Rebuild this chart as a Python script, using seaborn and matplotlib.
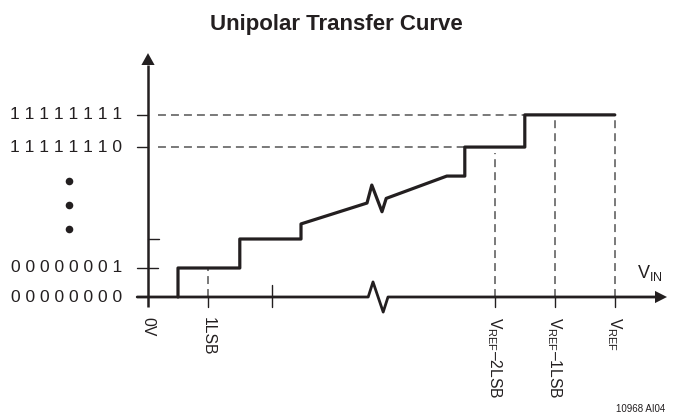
import numpy as np
import pandas as pd
import matplotlib
matplotlib.use("Agg")
import matplotlib.pyplot as plt
from matplotlib.patches import Polygon
import seaborn as sns

# ---- data (x in LSB units from 0V, y in output-code steps) ----
curve_x = [0.5, 0.5, 1.53, 1.53, 2.55, 2.55, 3.65, 3.73, 3.90, 3.97, 4.98, 5.28, 5.28, 6.28, 6.28, 7.78]
curve_y = [0.0, 1.0, 1.00, 2.00, 2.00, 2.52, 3.24, 3.86, 2.94, 3.40, 4.17, 4.17, 5.17, 5.17, 6.28, 6.28]

xaxis_x = [-0.18, 3.67, 3.75, 3.92, 4.00, 8.50]
xaxis_y = [0.0, 0.0, 0.52, -0.52, 0.0, 0.0]

code_levels = [0.0, 1.0, 5.17, 6.28]
code_labels = ["0 0 0 0 0 0 0 0", "0 0 0 0 0 0 0 1", "1 1 1 1 1 1 1 0", "1 1 1 1 1 1 1 1"]
mid_code_tick = 2.0
dot_levels = [4.0, 3.17, 2.34]

x_tick_pos = [0.0, 1.0, 5.78, 6.78, 7.78]
x_tick_labels = ["0V", "1LSB", r"V$_{\mathregular{REF}}$–2LSB", r"V$_{\mathregular{REF}}$–1LSB", r"V$_{\mathregular{REF}}$"]
mid_x_tick = 2.07

title = "Unipolar Transfer Curve"
footnote = "10968 AI04"

# ---- style ----
sns.set_theme(style="white")
FONT = ["Liberation Sans", "DejaVu Sans"]
plt.rcParams["font.family"] = FONT
plt.rcParams["mathtext.fontset"] = "custom"
plt.rcParams["mathtext.rm"] = "Liberation Sans"
plt.rcParams["mathtext.it"] = "Liberation Sans"
plt.rcParams["mathtext.bf"] = "Liberation Sans:bold"

INK = "#231f20"
DASH = "#555555"
dash_ls = (0, (5.2, 3.3))

fig = plt.figure(figsize=(6.73, 4.16), dpi=100)
ax = fig.add_axes([0, 0, 1, 1])
ax.set_xlim(-148 / 60, (673 - 148) / 60)
ax.set_ylim((297 - 416) / 29, 297 / 29)

# dashed guides
ax.plot([0.17, 6.28], [6.28, 6.28], color=DASH, lw=1.1, ls=dash_ls)
ax.plot([0.17, 5.28], [5.17, 5.17], color=DASH, lw=1.1, ls=dash_ls)
ax.plot([1.0, 1.0], [0, 1.0], color=DASH, lw=1.1, ls=dash_ls)
ax.plot([5.78, 5.78], [0, 4.97], color=DASH, lw=1.1, ls=dash_ls)
ax.plot([6.78, 6.78], [0, 6.28], color=DASH, lw=1.1, ls=dash_ls)
ax.plot([7.78, 7.78], [0, 6.28], color=DASH, lw=1.1, ls=dash_ls)

# axes lines
sns.lineplot(x=xaxis_x, y=xaxis_y, sort=False, estimator=None, ax=ax, color=INK, lw=2.0)
ax.plot([0, 0], [-0.34, 8.0], color=INK, lw=1.8, solid_capstyle="butt")
ax.add_patch(Polygon([[8.45, 0.21], [8.65, 0], [8.45, -0.21]], closed=True, color=INK, lw=0))
ax.add_patch(Polygon([[-0.11, 8.0], [0, 8.41], [0.11, 8.0]], closed=True, color=INK, lw=0))

# y ticks
for lv in code_levels[2:]:
    ax.plot([-0.18, 0.0], [lv, lv], color=INK, lw=1.0)
ax.plot([-0.18, 0.17], [1.0, 1.0], color=INK, lw=1.0)
ax.plot([0.0, 0.18], [mid_code_tick, mid_code_tick], color=INK, lw=1.0)

# x ticks
for xp in x_tick_pos[1:]:
    ax.plot([xp, xp], [0, -0.34], color=INK, lw=1.0)
ax.plot([mid_x_tick, mid_x_tick], [0.41, -0.34], color=INK, lw=1.0)

# transfer curve
sns.lineplot(x=curve_x, y=curve_y, sort=False, estimator=None, ax=ax, color=INK, lw=2.3)

# ellipsis dots
sns.scatterplot(x=[-1.317] * len(dot_levels), y=dot_levels, ax=ax, color=INK, s=30, linewidth=0)

# labels
for lv, lab in zip(code_levels, code_labels):
    ax.text(-0.43, lv, lab, ha="right", va="center", fontsize=12.5, color=INK)
for xp, lab in zip(x_tick_pos, x_tick_labels):
    ax.text(xp, -0.69, lab, ha="center", va="top", rotation=-90, fontsize=11.3, color=INK)
ax.text(8.15, 0.66, r"V$_{\mathregular{IN}}$", ha="left", va="baseline", fontsize=13, color=INK)

fig.text(0.5, 1 - 30 / 416, title, ha="center", va="baseline", fontsize=16, fontweight="bold", color=INK)
fig.text(665 / 673, 1 - 412 / 416, footnote, ha="right", va="baseline", fontsize=7, color=INK)

ax.set_axis_off()
fig.savefig("out.png", dpi=100)
